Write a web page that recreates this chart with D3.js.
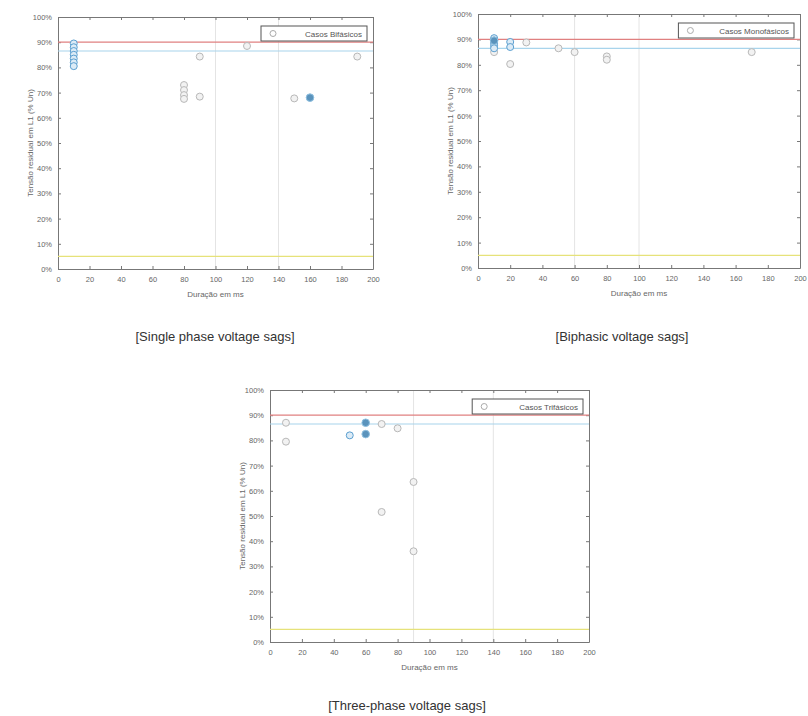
<!DOCTYPE html>
<html lang="pt">
<head>
<meta charset="UTF-8" />
<title>Afundamentos de tensão</title>
<script src="https://d3js.org/d3.v7.min.js"></script>
<style>
    body { margin: 0; background: #fff; }
    svg { font-family: "Liberation Sans", Arial, sans-serif; }
    .axis { color: #777; }
    .tick text { fill: #666; font-size: 7.5px; }
    .caption { font-size: 13px; fill: #333; }
    .axlabel { font-size: 8px; fill: #666; }
</style>
</head>
<body>
<script>
// durations (ms) and residual voltage (%)
const xTicks = [0, 20, 40, 60, 80, 100, 120, 140, 160, 180, 200];
const yTicks = [0, 10, 20, 30, 40, 50, 60, 70, 80, 90, 100];
const refLines = [90, 86.5, 5];   // red, blue, yellow

// single phase
const monoBlueX = [10, 10, 10, 10, 10, 10, 10];
const monoBlueY = [89.5, 88, 86.5, 85, 83.5, 82, 80.5];
const monoFillX = [160];
const monoFillY = [68];
const monoGrayX = [90, 120, 190, 80, 80, 80, 80, 90, 150];
const monoGrayY = [84.3, 88.5, 84.3, 73, 71, 69, 67.5, 68.4, 67.7];

// biphasic
const biBlueX = [10, 10, 10, 10, 10, 20, 20];
const biBlueY = [90.5, 89.5, 88.5, 87.5, 86.5, 89, 87];
const biFillX = [10];
const biFillY = [89.5];
const biGrayX = [10, 20, 30, 50, 60, 80, 80, 170];
const biGrayY = [85, 80.3, 88.8, 86.5, 85, 83.3, 82, 85];

// three-phase
const triBlueX = [50];
const triBlueY = [82];
const triFillX = [60, 60];
const triFillY = [87, 82.5];
const triGrayX = [10, 10, 70, 80, 90, 70, 90];
const triGrayY = [87, 79.5, 86.5, 84.8, 63.5, 51.6, 36];

const charts = [
    { x0: 58, y0: 17, w: 315, h: 252, legend: "Casos Bifásicos", caption: "[Single phase voltage sags]",
      capX: 215, capY: 341, grid: [100, 140],
      blue: [monoBlueX, monoBlueY], fill: [monoFillX, monoFillY], gray: [monoGrayX, monoGrayY] },
    { x0: 478, y0: 14, w: 322, h: 254, legend: "Casos Monofásicos", caption: "[Biphasic voltage sags]",
      capX: 622, capY: 341, grid: [60, 100],
      blue: [biBlueX, biBlueY], fill: [biFillX, biFillY], gray: [biGrayX, biGrayY] },
    { x0: 270, y0: 390, w: 319, h: 252, legend: "Casos Trifásicos", caption: "[Three-phase voltage sags]",
      capX: 407, capY: 710, grid: [90, 140],
      blue: [triBlueX, triBlueY], fill: [triFillX, triFillY], gray: [triGrayX, triGrayY] }
];

const svg = d3.select("body").append("svg")
    .attr("width", 808)
    .attr("height", 716);

charts.forEach(c => {
    const g = svg.append("g").attr("transform", `translate(${c.x0},${c.y0})`);
    const x = d3.scaleLinear().domain([0, 200]).range([0, c.w]);
    const y = d3.scaleLinear().domain([0, 100]).range([c.h, 0]);

    // faint vertical lines
    g.selectAll(".vgrid").data(c.grid).enter().append("line")
        .attr("x1", d => x(d)).attr("x2", d => x(d))
        .attr("y1", 0).attr("y2", c.h)
        .attr("stroke", "#e4e4e4");

    // axes, ticks inward like the original
    g.append("g").attr("class", "axis")
        .attr("transform", `translate(0,${c.h})`)
        .call(d3.axisBottom(x).tickValues(xTicks).tickSizeInner(-3).tickSizeOuter(0).tickPadding(8));
    g.append("g").attr("class", "axis")
        .call(d3.axisLeft(y).tickValues(yTicks).tickFormat(d => d + "%").tickSizeInner(-3).tickSizeOuter(0).tickPadding(6));
    g.append("g").attr("class", "axis")
        .call(d3.axisTop(x).tickValues(xTicks).tickSizeInner(-3).tickSizeOuter(0).tickFormat(""));
    g.append("g").attr("class", "axis")
        .attr("transform", `translate(${c.w},0)`)
        .call(d3.axisRight(y).tickValues(yTicks).tickSizeInner(-3).tickSizeOuter(0).tickFormat(""));

    // reference lines
    const lineColors = ["#e08080", "#a8d4ec", "#e6e27a"];
    g.selectAll(".ref").data(refLines).enter().append("line")
        .attr("x1", 0).attr("x2", c.w)
        .attr("y1", d => y(d)).attr("y2", d => y(d))
        .attr("stroke", (d, i) => lineColors[i])
        .attr("stroke-width", 1.2);

    // points
    const pts = (arr) => arr[0].map((v, i) => ({ x: v, y: arr[1][i] }));
    g.selectAll(".gray").data(pts(c.gray)).enter().append("circle")
        .attr("cx", d => x(d.x)).attr("cy", d => y(d.y)).attr("r", 3.5)
        .attr("fill", "#f2f2f2").attr("stroke", "#b8b8b8");
    g.selectAll(".blue").data(pts(c.blue)).enter().append("circle")
        .attr("cx", d => x(d.x)).attr("cy", d => y(d.y)).attr("r", 3.5)
        .attr("fill", "#dcebf6").attr("stroke", "#5b9fd0");
    g.selectAll(".fill").data(pts(c.fill)).enter().append("circle")
        .attr("cx", d => x(d.x)).attr("cy", d => y(d.y)).attr("r", 3.8)
        .attr("fill", "#5a93bc").attr("stroke", "#8fc0e0");

    // legend
    const lw = c.legend.length * 4.8 + 34;
    const lg = g.append("g").attr("transform", `translate(${c.w - lw - 6},9)`);
    lg.append("rect").attr("width", lw).attr("height", 15)
        .attr("fill", "#fff").attr("stroke", "#555");
    lg.append("circle").attr("cx", 12).attr("cy", 7.5).attr("r", 3)
        .attr("fill", "none").attr("stroke", "#aaa");
    lg.append("text").attr("x", lw - 5).attr("y", 10.5)
        .attr("text-anchor", "end").attr("font-size", 8).attr("fill", "#555")
        .text(c.legend);

    // axis titles
    g.append("text").attr("class", "axlabel")
        .attr("x", c.w / 2).attr("y", c.h + 28)
        .attr("text-anchor", "middle").text("Duração em ms");
    g.append("text").attr("class", "axlabel")
        .attr("transform", `translate(-25,${c.h / 2}) rotate(-90)`)
        .attr("text-anchor", "middle").text("Tensão residual em L1 (% Un)");

    svg.append("text").attr("class", "caption")
        .attr("x", c.capX).attr("y", c.capY)
        .attr("text-anchor", "middle").text(c.caption);
});
</script>
</body>
</html>
